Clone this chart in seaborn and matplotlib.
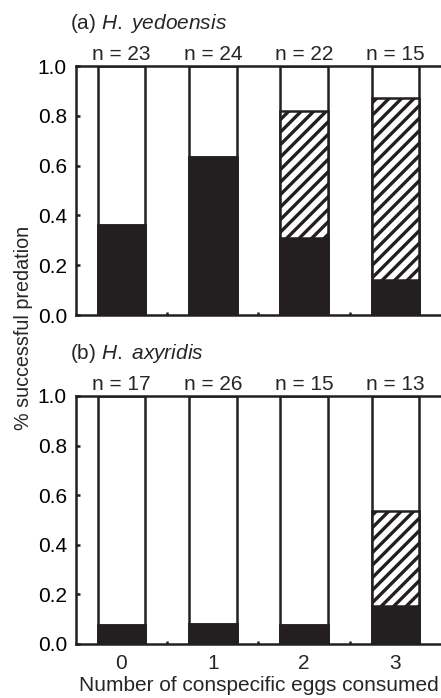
import numpy as np
import pandas as pd
import matplotlib
matplotlib.use("Agg")
import matplotlib.pyplot as plt
import seaborn as sns

# data
eggs = ["0", "1", "2", "3"]

yed_n = [23, 24, 22, 15]
yed_black = [0.36, 0.635, 0.31, 0.14]
yed_hatch = [0.0, 0.0, 0.51, 0.73]   # hatched part sitting on top of black part

axy_n = [17, 26, 15, 13]
axy_black = [0.075, 0.082, 0.075, 0.152]
axy_hatch = [0.0, 0.0, 0.0, 0.386]

panels = [
    ("(a) $\\it{H.\\ yedoensis}$", yed_n, yed_black, yed_hatch),
    ("(b) $\\it{H.\\ axyridis}$", axy_n, axy_black, axy_hatch),
]

sns.set_theme(style="ticks")
plt.rcParams["font.family"] = ["Liberation Sans", "DejaVu Sans"]
plt.rcParams["mathtext.fontset"] = "custom"
plt.rcParams["mathtext.rm"] = "Liberation Sans"
plt.rcParams["mathtext.it"] = "Liberation Sans:italic"
plt.rcParams["hatch.linewidth"] = 1.6
plt.rcParams["hatch.color"] = "#231f20"

dark = "#231f20"
fs = 10
bw = 0.52
lw = 1.2

fig = plt.figure(figsize=(441 / 150, 698 / 150), dpi=150)
ax_a = fig.add_axes([0.172, 0.5487, 0.828, 0.3567])
ax_b = fig.add_axes([0.172, 0.0774, 0.828, 0.3553])

for ax, (title, ns, black, hatch) in zip([ax_a, ax_b], panels):
    df = pd.DataFrame({"eggs": eggs, "black": black, "hatch": hatch})
    df["hatch_top"] = df["black"] + df["hatch"]
    df["total"] = 1.0

    sns.barplot(data=df, x="eggs", y="total", order=eggs, color="white",
                saturation=1, width=bw, errorbar=None, edgecolor=dark,
                linewidth=lw, ax=ax)
    sns.barplot(data=df, x="eggs", y="hatch_top", order=eggs, color="white",
                saturation=1, width=bw, errorbar=None, edgecolor=dark,
                linewidth=lw, hatch="////", ax=ax)
    sns.barplot(data=df, x="eggs", y="black", order=eggs, color=dark,
                saturation=1, width=bw, errorbar=None, edgecolor=dark,
                linewidth=lw, ax=ax)

    ax.set_xlim(-0.5, 3.5)
    ax.set_ylim(0, 1)
    ax.set_yticks(np.arange(0, 1.01, 0.2))
    ax.set_yticklabels([f"{v:.1f}" for v in np.arange(0, 1.01, 0.2)])
    ax.set_xticks([0.5, 1.5, 2.5], minor=True)
    ax.tick_params(axis="y", direction="in", length=2, width=1.2,
                   labelsize=fs, pad=4.3, colors=dark, labelcolor="black")
    ax.tick_params(axis="x", which="major", length=0, labelsize=fs, pad=4.8)
    ax.tick_params(axis="x", which="minor", direction="in", length=1.5,
                   width=1.2, colors=dark)
    ax.set_xlabel("")
    ax.set_ylabel("")
    for side in ["top", "left", "bottom"]:
        ax.spines[side].set_linewidth(lw)
        ax.spines[side].set_color(dark)
    ax.spines["right"].set_visible(False)

    for i, n in enumerate(ns):
        ax.text(i, 1.025, f"n = {n}", ha="center", va="baseline", fontsize=fs)
    ax.text(-0.56, 1.15, title, ha="left", va="baseline", fontsize=fs)

ax_a.set_xticklabels([])
ax_b.set_xlabel("Number of conspecific eggs consumed", fontsize=fs, labelpad=1.5)
fig.text(0.054, 0.530, "% successful predation", rotation=90,
         ha="center", va="center", fontsize=9.5)

fig.savefig("out.png", dpi=150, facecolor="white")
